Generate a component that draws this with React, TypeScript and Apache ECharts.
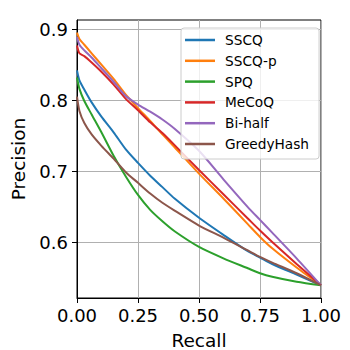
import React, { useEffect, useRef } from "react";
import * as echarts from "echarts";

const recall = [0, 0.01, 0.03, 0.06, 0.1, 0.15, 0.2, 0.25, 0.3, 0.35, 0.4, 0.5, 0.6, 0.7, 0.75, 0.8, 0.9, 1.0];

const seriesNames = ["SSCQ", "SSCQ-p", "SPQ", "MeCoQ", "Bi-half", "GreedyHash"];

const sscq = [0.842, 0.828, 0.815, 0.797, 0.777, 0.755, 0.731, 0.712, 0.694, 0.678, 0.662, 0.635, 0.611, 0.588, 0.579, 0.570, 0.555, 0.540];
const sscqP = [0.895, 0.886, 0.878, 0.866, 0.850, 0.830, 0.808, 0.789, 0.771, 0.752, 0.734, 0.697, 0.662, 0.626, 0.608, 0.592, 0.565, 0.540];
const spq = [0.832, 0.816, 0.799, 0.780, 0.755, 0.722, 0.693, 0.667, 0.646, 0.630, 0.616, 0.594, 0.578, 0.564, 0.557, 0.552, 0.545, 0.540];
const mecoq = [0.877, 0.866, 0.862, 0.853, 0.840, 0.822, 0.802, 0.786, 0.769, 0.754, 0.737, 0.702, 0.668, 0.634, 0.617, 0.601, 0.570, 0.540];
const biHalf = [0.889, 0.878, 0.870, 0.860, 0.845, 0.826, 0.806, 0.794, 0.784, 0.773, 0.760, 0.729, 0.689, 0.650, 0.632, 0.614, 0.578, 0.540];
const greedyHash = [0.805, 0.785, 0.768, 0.752, 0.736, 0.718, 0.699, 0.684, 0.669, 0.656, 0.645, 0.624, 0.607, 0.589, 0.580, 0.572, 0.557, 0.540];

const xTicks = [0, 0.25, 0.5, 0.75, 1.0];
const yTicks = [0.6, 0.7, 0.8, 0.9];

const colors = ["#1f77b4", "#ff7f0e", "#2ca02c", "#d62728", "#9467bd", "#8c564b"];
const allValues = [sscq, sscqP, spq, mecoq, biHalf, greedyHash];

const FONT = "DejaVu Sans";

export default function App() {
  const ref = useRef<HTMLDivElement>(null);
  useEffect(() => {
    if (!ref.current) return;
    const chart = echarts.init(ref.current, null, { renderer: "svg" });
    const flat = allValues.flat();
    const lo = Math.min(...flat);
    const hi = Math.max(...flat);
    const pad = (hi - lo) * 0.05;
    chart.setOption({
      animation: false,
      grid: {
        left: 77,
        right: 29,
        top: 20,
        bottom: 52,
        containLabel: false,
        outerBoundsMode: "none",
        show: true,
        borderColor: "#000",
        borderWidth: 1,
        backgroundColor: "transparent",
      },
      legend: {
        orient: "vertical",
        left: 181,
        top: 28,
        padding: [4, 10, 7, 4],
        itemWidth: 30,
        itemHeight: 2.5,
        itemGap: 4.8,
        icon: "rect",
        backgroundColor: "rgba(255,255,255,0.8)",
        borderColor: "#cccccc",
        borderWidth: 1,
        borderRadius: 3,
        data: seriesNames,
        textStyle: {
          fontFamily: FONT,
          fontSize: 13.7,
          color: "#000",
          lineHeight: 16,
          padding: [0, 0, 0, 5],
        },
      },
      xAxis: {
        type: "value",
        min: 0,
        max: 1,
        interval: 0.25,
        name: "Recall",
        nameLocation: "middle",
        nameGap: 33,
        nameTextStyle: { fontFamily: FONT, fontSize: 18.5, color: "#000" },
        axisLine: { show: true, onZero: false, lineStyle: { color: "#000", width: 1 } },
        axisTick: { show: true, inside: false, length: 5, lineStyle: { color: "#000" } },
        axisLabel: {
          fontFamily: FONT,
          fontSize: 18,
          color: "#000",
          margin: 8,
          formatter: (v: number) => v.toFixed(2),
          customValues: xTicks,
        },
        splitLine: { show: true, lineStyle: { color: "#b0b0b0", width: 1 } },
      },
      yAxis: {
        type: "value",
        min: lo - pad,
        max: hi + pad,
        name: "Precision",
        nameLocation: "middle",
        nameGap: 46,
        nameRotate: 90,
        nameTextStyle: { fontFamily: FONT, fontSize: 18.5, color: "#000" },
        axisLine: { show: true, onZero: false, lineStyle: { color: "#000", width: 1 } },
        axisTick: { show: true, inside: false, length: 5, lineStyle: { color: "#000" }, customValues: yTicks },
        axisLabel: {
          fontFamily: FONT,
          fontSize: 18,
          color: "#000",
          margin: 9,
          formatter: (v: number) => v.toFixed(1),
          customValues: yTicks,
        },
        splitLine: { show: true, lineStyle: { color: "#b0b0b0", width: 1 } },
      },
      series: seriesNames.map((name, i) => ({
        name,
        type: "line",
        data: recall.map((r, j) => [r, allValues[i][j]]),
        showSymbol: false,
        smooth: 0.25,
        lineStyle: { color: colors[i], width: 2 },
        itemStyle: { color: colors[i] },
      })),
    });
    return () => chart.dispose();
  }, []);
  return (
    <div
      ref={ref}
      style={{ position: "fixed", left: 0, top: 0, width: 350, height: 350, background: "#fff" }}
    />
  );
}
